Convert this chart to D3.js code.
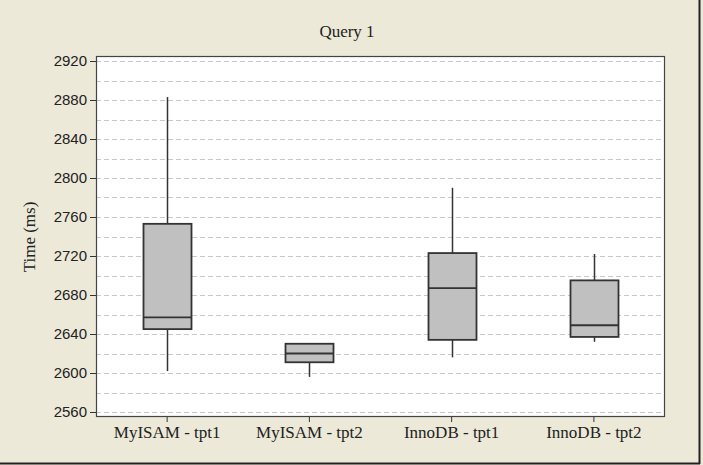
<!DOCTYPE html>
<html>
<head>
<meta charset="utf-8">
<script src="https://cdn.jsdelivr.net/npm/d3@7"></script>
<style>
  html, body { margin: 0; padding: 0; background: #ECE9D8; }
  svg { display: block; }
</style>
</head>
<body>
<svg id="chart" width="703" height="465"></svg>
<script>
const categories = ["MyISAM - tpt1", "MyISAM - tpt2", "InnoDB - tpt1", "InnoDB - tpt2"];
const whiskerLow  = [2602, 2596, 2616, 2632];
const boxLow      = [2645, 2611, 2634, 2637];
const medians     = [2657, 2620, 2687, 2649];
const boxHigh     = [2753, 2630, 2723, 2695];
const whiskerHigh = [2883, 2630, 2790, 2722];
const yTicks = [2560, 2600, 2640, 2680, 2720, 2760, 2800, 2840, 2880, 2920];
const yGrid = d3.range(2560, 2921, 20);

const W = 703, H = 465;
const margin = { left: 96, right: 38, top: 56, bottom: 48 };
const svg = d3.select("#chart");

svg.append("rect").attr("x", 0).attr("y", 0).attr("width", W).attr("height", H).attr("fill", "#ECE9D8");
// window frame
svg.append("line").attr("x1", 699.5).attr("x2", 699.5).attr("y1", 0).attr("y2", 464).attr("stroke", "#222").attr("stroke-width", 2);
svg.append("line").attr("x1", 0).attr("x2", 700).attr("y1", 463.5).attr("y2", 463.5).attr("stroke", "#222").attr("stroke-width", 2);

const x = d3.scaleBand().domain(categories).range([margin.left, W - margin.right]).padding(0);
const y = d3.scaleLinear().domain([2560, 2920]).range([412, 61]);

const plotTop = margin.top, plotBottom = H - margin.bottom;
svg.append("rect")
  .attr("x", margin.left).attr("y", plotTop)
  .attr("width", W - margin.right - margin.left).attr("height", plotBottom - plotTop)
  .attr("fill", "#fff");

// grid
svg.append("g").selectAll("line").data(yGrid).join("line")
  .attr("x1", margin.left).attr("x2", W - margin.right)
  .attr("y1", d => Math.round(y(d)) + 0.5).attr("y2", d => Math.round(y(d)) + 0.5)
  .attr("stroke", "#c8c8c8").attr("stroke-dasharray", "5,3");

// plot border
svg.append("rect")
  .attr("x", margin.left + 0.5).attr("y", plotTop + 0.5)
  .attr("width", W - margin.right - margin.left - 1).attr("height", plotBottom - plotTop - 1)
  .attr("fill", "none").attr("stroke", "#444").attr("stroke-width", 1.2);

// axes
const yAxis = svg.append("g").attr("transform", `translate(${margin.left},0)`)
  .call(d3.axisLeft(y).tickValues(yTicks).tickSize(6).tickPadding(3).tickFormat(d3.format("d")));
yAxis.select(".domain").remove();
yAxis.selectAll("line").attr("stroke", "#333");
yAxis.selectAll("text").attr("font-family", "Liberation Sans, Arial, sans-serif").attr("font-size", 15).attr("fill", "#222");

const xAxis = svg.append("g").attr("transform", `translate(0,${plotBottom})`)
  .call(d3.axisBottom(x).tickSize(5).tickPadding(4));
xAxis.select(".domain").remove();
xAxis.selectAll("line").attr("stroke", "#333");
xAxis.selectAll("text").attr("font-family", "Liberation Serif, Times New Roman, serif").attr("font-size", 17).attr("fill", "#222");

// boxes
const bw = 48;
const g = svg.append("g");
categories.forEach((c, i) => {
  const cx = Math.round(x(c) + x.bandwidth() / 2) + 0.5;
  g.append("line").attr("x1", cx).attr("x2", cx).attr("y1", y(whiskerHigh[i])).attr("y2", y(boxHigh[i]))
    .attr("stroke", "#333").attr("stroke-width", 1.5);
  g.append("line").attr("x1", cx).attr("x2", cx).attr("y1", y(boxLow[i])).attr("y2", y(whiskerLow[i]))
    .attr("stroke", "#333").attr("stroke-width", 1.5);
  g.append("rect").attr("x", cx - bw / 2).attr("y", y(boxHigh[i]))
    .attr("width", bw).attr("height", y(boxLow[i]) - y(boxHigh[i]))
    .attr("fill", "#c0c0c0").attr("stroke", "#333").attr("stroke-width", 1.8);
  g.append("line").attr("x1", cx - bw / 2).attr("x2", cx + bw / 2).attr("y1", y(medians[i])).attr("y2", y(medians[i]))
    .attr("stroke", "#333").attr("stroke-width", 1.8);
});

// title
svg.append("text").attr("x", 347).attr("y", 37).attr("text-anchor", "middle")
  .attr("font-family", "Liberation Serif, Times New Roman, serif").attr("font-size", 17).attr("fill", "#222")
  .text("Query 1");

// y label
svg.append("text").attr("transform", "translate(35,237) rotate(-90)").attr("text-anchor", "middle")
  .attr("font-family", "Liberation Serif, Times New Roman, serif").attr("font-size", 17).attr("fill", "#222")
  .text("Time (ms)");
</script>
</body>
</html>
